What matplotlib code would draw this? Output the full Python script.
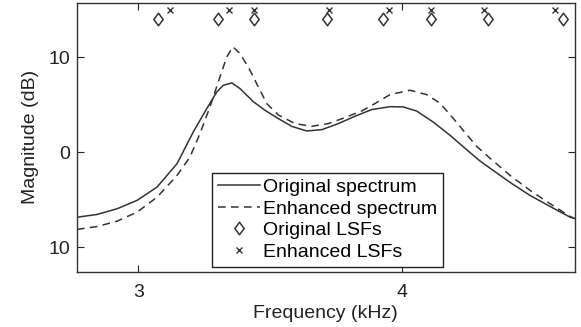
import matplotlib
matplotlib.use("Agg")
import matplotlib.pyplot as plt
from matplotlib.path import Path

# Original spectrum (solid): frequency (kHz), magnitude (dB)
orig_f = [2.767, 2.843, 2.919, 2.995, 3.071, 3.147, 3.209, 3.260, 3.298, 3.323,
          3.355, 3.386, 3.437, 3.481, 3.532, 3.583, 3.640, 3.697, 3.760, 3.823,
          3.886, 3.956, 4.006, 4.057, 4.120, 4.184, 4.247, 4.298, 4.336, 4.412,
          4.488, 4.564, 4.640, 4.657]
orig_db = [-6.86, -6.57, -5.97, -5.09, -3.69, -1.22, 2.13, 4.58, 6.33, 7.04,
           7.28, 6.69, 5.30, 4.40, 3.52, 2.70, 2.22, 2.36, 3.00, 3.77,
           4.47, 4.78, 4.75, 4.32, 3.16, 1.76, 0.25, -0.95, -1.70, -3.20,
           -4.57, -5.73, -6.86, -7.00]

# Enhanced spectrum (dashed)
enh_f = [2.767, 2.843, 2.919, 2.995, 3.071, 3.147, 3.196, 3.234, 3.272, 3.310,
         3.336, 3.359, 3.386, 3.424, 3.462, 3.488, 3.532, 3.595, 3.658, 3.722,
         3.785, 3.848, 3.892, 3.956, 4.032, 4.095, 4.146, 4.196, 4.247, 4.285,
         4.336, 4.412, 4.488, 4.564, 4.640, 4.657]
enh_db = [-8.15, -7.84, -7.28, -6.33, -4.75, -2.46, -0.53, 1.94, 4.75, 7.91,
          10.02, 11.08, 10.38, 8.62, 6.51, 5.10, 3.90, 3.00, 2.71, 3.00,
          3.63, 4.32, 5.00, 6.05, 6.51, 6.05, 5.14, 3.55, 1.85, 0.60,
          -0.65, -2.46, -4.04, -5.44, -6.78, -7.00]

# LSFs
orig_lsf = [3.076, 3.304, 3.441, 3.716, 3.930, 4.111, 4.327, 4.612]
orig_lsf_level = 14.0
enh_lsf = [3.120, 3.346, 3.441, 3.725, 3.953, 4.111, 4.314, 4.584]
enh_lsf_level = 15.0

xticks = [3, 4]
xticklabels = ["3", "4"]
yticks = [10, 0, -10]
yticklabels = ["10", "0", "10"]

plt.rcParams['font.family'] = ['Liberation Sans', 'DejaVu Sans']

fig = plt.figure(figsize=(5.81, 3.27), dpi=100)
ax = fig.add_axes([0.1325, 0.169, 0.8565, 0.822])

col = '#333333'
diamond = Path([(0, 1), (0.75, 0), (0, -1), (-0.75, 0), (0, 1)],
               [Path.MOVETO, Path.LINETO, Path.LINETO, Path.LINETO, Path.CLOSEPOLY])

ax.plot(orig_f, orig_db, '-', color=col, lw=1.1, label='Original spectrum')
ax.plot(enh_f, enh_db, '--', color=col, lw=1.1, dashes=(5, 3.5), label='Enhanced spectrum')
ax.plot(orig_lsf, [orig_lsf_level] * len(orig_lsf), linestyle='none', marker=diamond,
        ms=9, mfc='white', mec=col, mew=1.1, label='Original LSFs')
ax.plot(enh_lsf, [enh_lsf_level] * len(enh_lsf), linestyle='none', marker='x',
        ms=4, color=col, mew=1.0, label='Enhanced LSFs')

ax.set_xlim(2.767, 4.657)
ax.set_ylim(-12.6, 15.7)
ax.set_xticks(xticks)
ax.set_xticklabels(xticklabels)
ax.set_yticks(yticks)
ax.set_yticklabels(yticklabels)
ax.tick_params(direction='in', top=True, right=True, length=5, width=0.8,
               labelsize=14, colors='#222222')
ax.tick_params(axis='x', pad=9)
ax.tick_params(axis='y', pad=5)
for s in ax.spines.values():
    s.set_linewidth(1.0)
    s.set_color('#333333')

ax.set_xlabel('Frequency (kHz)', fontsize=14, color='#222222', labelpad=3)
ax.set_ylabel('Magnitude (dB)', fontsize=14, color='#222222', labelpad=7)

leg = ax.legend(loc='lower left', bbox_to_anchor=(0.271, 0.019), borderaxespad=0,
                fontsize=14, frameon=True, fancybox=False, edgecolor='#222222',
                framealpha=1, handlelength=2.2, handletextpad=0.15,
                labelspacing=0.2, borderpad=0.3)
leg.get_frame().set_linewidth(1.0)

fig.savefig('out.png', dpi=100)
